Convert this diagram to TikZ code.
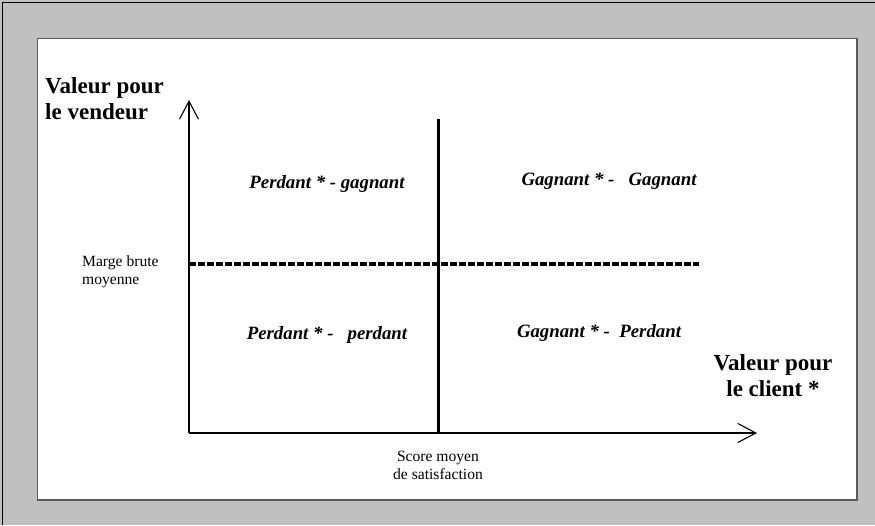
\documentclass[tikz,border=0pt]{standalone}
\usepackage{fontspec}
\setmainfont{Liberation Serif}
\usetikzlibrary{arrows.meta}
\definecolor{bggray}{RGB}{192,192,192}
\definecolor{framegray}{RGB}{90,90,90}
\tikzset{
  axisline/.style={line width=1.1pt, draw=black, -{Straight Barb[length=18pt,width=19pt,line width=1.1pt]}},
  axistitle/.style={font=\fontsize{23}{26}\selectfont\bfseries, align=left, inner sep=0pt},
  quadlabel/.style={font=\fontsize{18.8}{22}\selectfont\bfseries\itshape, inner sep=0pt},
  smalllabel/.style={font=\fontsize{15.6}{18}\selectfont, inner sep=0pt},
}
\begin{document}
\begin{tikzpicture}[x=1pt,y=-1pt]
\useasboundingbox (0,0) rectangle (875,525);
% background
\fill[bggray] (0,0) rectangle (875,525);
\draw[black, line width=1.2pt] (2.5,525) -- (2.5,2.5) -- (875,2.5);
% inner white panel
\fill[white] (37,38) rectangle (857,499);
\draw[framegray, line width=0.8pt] (37,499) -- (37,38) -- (857,38);
\draw[framegray, line width=2pt] (857,38) -- (857,500) -- (37,500);
% axes
\coordinate (O) at (189,433);
\coordinate (ytop) at (189,100);
\coordinate (xend) at (757,433);
\draw[axisline] (O) -- (ytop);
\draw[axisline] (O) -- (xend);
% vertical separator
\coordinate (vtop) at (438,119);
\coordinate (vbot) at (438,433);
\draw[line width=3pt] (vtop) -- (vbot);
% horizontal dashed separator
\coordinate (hleft) at (189,264);
\coordinate (hright) at (699,264);
\draw[line width=3.4pt, dash pattern=on 7pt off 2pt] (hleft) -- (hright);
% titles
\node[axistitle, anchor=north west] (yt) at (45,77) {Valeur pour\\le vendeur};
\node[axistitle, align=center, anchor=north] (xt) at (773,354) {Valeur pour\\le client *};
\node[smalllabel, align=left, anchor=west] (mb) at (82,272) {Marge brute\\moyenne};
\node[smalllabel, align=center, anchor=north] (sm) at (438,451) {Score moyen\\de satisfaction};
% quadrant labels
\node[quadlabel] (q1) at (327,184) {Perdant * - gagnant};
\node[quadlabel] (q2) at (609,181) {Gagnant * -\ \ \ Gagnant};
\node[quadlabel] (q3) at (327,335) {Perdant * -\ \ \ perdant};
\node[quadlabel] (q4) at (599,333) {Gagnant * -\ \ Perdant};
\end{tikzpicture}
\end{document}
